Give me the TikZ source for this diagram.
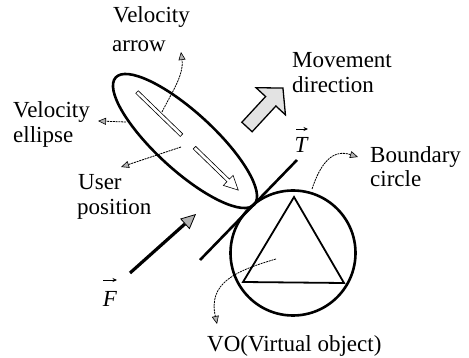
\documentclass[tikz,border=0pt]{standalone}
\usepackage{fontspec}
\setmainfont{Liberation Serif}
\usetikzlibrary{arrows.meta}
\begin{document}
\begin{tikzpicture}[x=1pt,y=-1pt,
  lbl/.style={anchor=base west, inner sep=0pt, font=\fontsize{23}{25}\selectfont},
  vlbl/.style={anchor=base, inner sep=0pt, font=\fontsize{23}{25}\selectfont\itshape},
  vecarrow/.style={line width=0.8pt, -{Stealth[length=4.5pt,width=4pt]}},
  heavy/.style={line width=2.6pt},
  callout/.style={line width=0.8pt, dash pattern=on 2pt off 0.8pt, -{Triangle[length=8pt,width=7pt,fill=gray!60,line width=0.6pt]}},
  hollow/.style={line width=0.6pt, fill=white},
  block/.style={line width=1.3pt, fill=gray!22, line join=miter},
]
\useasboundingbox (0,0) rectangle (469,358);

% velocity ellipse
\draw[heavy, rotate around={-42.5:(185,141)}] (185,141) ellipse (94 and 29);

% velocity arrow (hollow, with a gap)
\begin{scope}[shift={(137,92)}, rotate=-44.1]
  \draw[hollow] (0,-1.8) -- (62,-1.8) -- (62,1.8) -- (0,1.8) -- cycle;
  \draw[hollow] (80,-1.8) -- (127,-1.8) -- (127,-7) -- (141,0) -- (127,7) -- (127,1.8) -- (80,1.8) -- cycle;
\end{scope}

% movement direction block arrow
\begin{scope}[shift={(247,127)}, rotate=47.3]
  \draw[block] (0,-7) -- (35,-7) -- (35,-20) -- (53,0) -- (35,20) -- (35,7) -- (0,7) -- cycle;
\end{scope}

% boundary circle, virtual object
\draw[heavy] (293,253) circle (62.5);
\draw[line width=1.8pt, line join=miter] (294,197) -- (243,282) -- (344,283) -- cycle;

% tangent line T
\coordinate (tA) at (200,260);
\coordinate (tB) at (297,160);
\draw[heavy] (tA) -- (tB);

% force F
\coordinate (fA) at (130,273);
\coordinate (fB) at (196,214);
\draw[line width=3.2pt, -{Triangle[length=15pt,width=14pt,fill=gray!60,line width=0.8pt]}] (fA) -- (fB);

% labels
\node[lbl] (va1) at (113,23) {Velocity};
\node[lbl] (va2) at (112,52) {arrow};
\node[lbl] (ve1) at (13,118) {Velocity};
\node[lbl] (ve2) at (13,143) {ellipse};
\node[lbl] (up1) at (78,190) {User};
\node[lbl] (up2) at (77,215) {position};
\node[lbl] (md1) at (292,68) {Movement};
\node[lbl] (md2) at (292,93) {direction};
\node[lbl] (bc1) at (370,163) {Boundary};
\node[lbl] (bc2) at (370,187) {circle};
\node[lbl] (vo) at (207,352) {VO(Virtual object)};
\node[vlbl] (T) at (301,153) {T};
\node[vlbl] (F) at (110,307) {F};
\draw[vecarrow] ([shift={(-5,-24)}]T.base) -- ([shift={(7,-24)}]T.base);
\draw[vecarrow] ([shift={(-7,-27)}]F.base) -- ([shift={(7,-27)}]F.base);

% callouts
\coordinate (c1s) at (162,112);
\coordinate (c1e) at (181,52);
\draw[callout] (c1s) .. controls (172,92) and (184,75) .. (c1e);
\coordinate (c2s) at (126,122);
\coordinate (c2e) at (98,121);
\draw[callout] (c2s) -- (c2e);
\coordinate (c3s) at (181,147);
\coordinate (c3e) at (121,167);
\draw[callout] (c3s) -- (c3e);
\coordinate (c4s) at (312,189);
\coordinate (c4e) at (358,157);
\draw[callout] (c4s) .. controls (321,162) and (333,149) .. (c4e);
\coordinate (c5s) at (276,259);
\coordinate (c5e) at (217,324);
\draw[callout] (c5s) .. controls (235,271) and (208,283) .. (c5e);
\end{tikzpicture}
\end{document}
